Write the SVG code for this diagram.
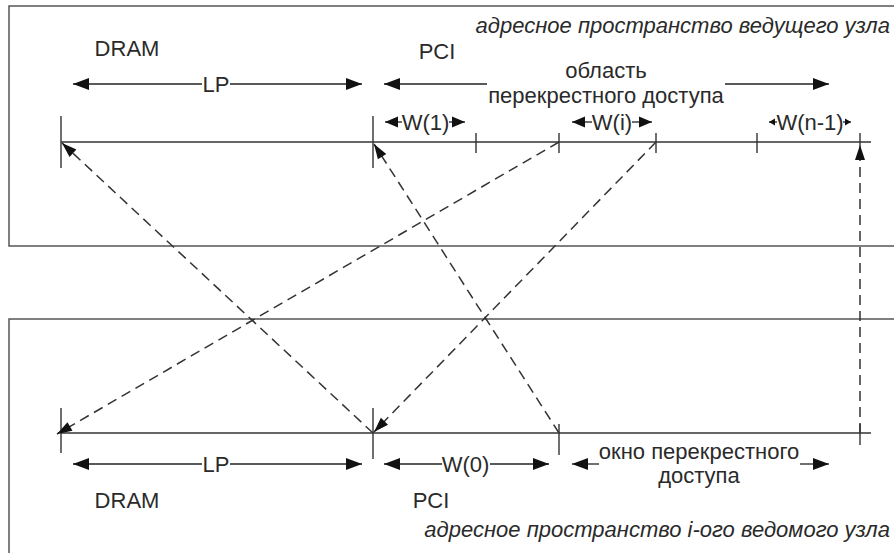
<svg xmlns="http://www.w3.org/2000/svg" width="894" height="553" viewBox="0 0 894 553">
<style>
  .box{fill:none;stroke:#555;stroke-width:1.5}
  .ax{stroke:#333;stroke-width:1.4;fill:none}
  .tk{stroke:#333;stroke-width:1.4}
  .dim{stroke:#222;stroke-width:1.3;fill:none}
  .big{marker-start:url(#ahs);}
  .bigE{marker-end:url(#ahe);}
  .smS{marker-start:url(#ass);}
  .smE{marker-end:url(#ase);}
  .tnS{marker-start:url(#ats);}
  .tnE{marker-end:url(#ate);}
  .dash{stroke:#333;stroke-width:1.5;fill:none;stroke-dasharray:10 6;marker-end:url(#dah)}
  text{font-family:"Liberation Sans",Arial,sans-serif;font-size:22px;fill:#2a2a2a}
  .c{text-anchor:middle}
  .it{font-style:italic;text-anchor:end}
</style>
<defs>
  <marker id="ahe" markerUnits="userSpaceOnUse" markerWidth="17" markerHeight="12" refX="16" refY="6" orient="auto" overflow="visible"><path d="M0,0 L16,6 L0,12 z" fill="#111"/></marker>
  <marker id="ahs" markerUnits="userSpaceOnUse" markerWidth="17" markerHeight="12" refX="0" refY="6" orient="auto" overflow="visible"><path d="M16,0 L0,6 L16,12 z" fill="#111"/></marker>
  <marker id="ase" markerUnits="userSpaceOnUse" markerWidth="14" markerHeight="11" refX="13" refY="5.5" orient="auto" overflow="visible"><path d="M0,0 L13,5.5 L0,11 z" fill="#111"/></marker>
  <marker id="ass" markerUnits="userSpaceOnUse" markerWidth="14" markerHeight="11" refX="0" refY="5.5" orient="auto" overflow="visible"><path d="M13,0 L0,5.5 L13,11 z" fill="#111"/></marker>
  <marker id="ate" markerUnits="userSpaceOnUse" markerWidth="7" markerHeight="7" refX="6" refY="3.5" orient="auto" overflow="visible"><path d="M0,0 L6,3.5 L0,7 z" fill="#111"/></marker>
  <marker id="ats" markerUnits="userSpaceOnUse" markerWidth="7" markerHeight="7" refX="0" refY="3.5" orient="auto" overflow="visible"><path d="M6,0 L0,3.5 L6,7 z" fill="#111"/></marker>
  <marker id="dah" markerUnits="userSpaceOnUse" markerWidth="16" markerHeight="10" refX="15" refY="5" orient="auto" overflow="visible"><path d="M0,0 L15,5 L0,10 z" fill="#111"/></marker>
</defs>
<rect width="894" height="553" fill="#fff"/>

<g id="master-space">
  <path class="box" d="M900,6 H9 V246 H900"/>
  <text class="it" x="890" y="33">адресное пространство ведущего узла</text>
  <text class="c" x="127" y="56">DRAM</text>
  <text class="c" x="437" y="59">PCI</text>
  <line class="dim big" x1="73" y1="84" x2="202" y2="84"/>
  <line class="dim bigE" x1="230" y1="84" x2="362" y2="84"/>
  <text class="c" x="216" y="92">LP</text>
  <line class="dim big" x1="384" y1="84" x2="487" y2="84"/>
  <line class="dim bigE" x1="725" y1="84" x2="829" y2="84"/>
  <text class="c" x="606" y="78">область</text>
  <text class="c" x="606" y="103">перекрестного доступа</text>
  <line class="dim smS" x1="385" y1="122" x2="402" y2="122"/>
  <line class="dim smE" x1="449" y1="122" x2="465" y2="122"/>
  <text class="c" x="425.5" y="130">W(1)</text>
  <line class="dim smS" x1="572" y1="122" x2="592" y2="122"/>
  <line class="dim smE" x1="632" y1="122" x2="652" y2="122"/>
  <text class="c" x="612" y="130">W(i)</text>
  <line class="dim tnS" x1="769" y1="122" x2="777" y2="122"/>
  <line class="dim tnE" x1="843" y1="122" x2="851" y2="122"/>
  <text class="c" x="810" y="130">W(n-1)</text>
  <line class="ax" x1="61" y1="142" x2="871" y2="142"/>
  <line class="tk" x1="61" y1="116" x2="61" y2="168"/>
  <line class="tk" x1="373" y1="116" x2="373" y2="168"/>
  <line class="tk" x1="476" y1="133" x2="476" y2="153"/>
  <line class="tk" x1="559" y1="133" x2="559" y2="153"/>
  <line class="tk" x1="656" y1="133" x2="656" y2="153"/>
  <line class="tk" x1="757" y1="133" x2="757" y2="153"/>
  <line class="tk" x1="860" y1="133" x2="860" y2="153"/>
</g>

<g id="slave-space">
  <path class="box" d="M900,319 H9 V560"/>
  <line class="ax" x1="61" y1="433" x2="871" y2="433"/>
  <line class="tk" x1="61" y1="408" x2="61" y2="453"/>
  <line class="tk" x1="373" y1="408" x2="373" y2="459"/>
  <line class="tk" x1="559" y1="424" x2="559" y2="455"/>
  <line class="tk" x1="860" y1="424" x2="860" y2="445"/>
  <line class="dim big" x1="73" y1="464" x2="202" y2="464"/>
  <line class="dim bigE" x1="230" y1="464" x2="362" y2="464"/>
  <text class="c" x="216" y="472">LP</text>
  <line class="dim big" x1="384" y1="464" x2="442" y2="464"/>
  <line class="dim bigE" x1="490" y1="464" x2="549" y2="464"/>
  <text class="c" x="465.5" y="472">W(0)</text>
  <line class="dim big" x1="572" y1="464" x2="599" y2="464"/>
  <line class="dim bigE" x1="800" y1="464" x2="829" y2="464"/>
  <text class="c" x="699" y="459">окно перекрестного</text>
  <text class="c" x="699" y="483">доступа</text>
  <text class="c" x="127" y="508">DRAM</text>
  <text class="c" x="431" y="508">PCI</text>
  <text class="it" x="890" y="537">адресное пространство i-ого ведомого узла</text>
</g>

<g id="connectors">
  <line class="dash" x1="373" y1="433" x2="62" y2="143"/>
  <line class="dash" x1="559" y1="142" x2="57" y2="434"/>
  <line class="dash" x1="656" y1="142" x2="374" y2="432"/>
  <line class="dash" x1="559" y1="433" x2="374" y2="144"/>
  <line class="dash" x1="860" y1="433" x2="860" y2="145"/>
</g>
</svg>
